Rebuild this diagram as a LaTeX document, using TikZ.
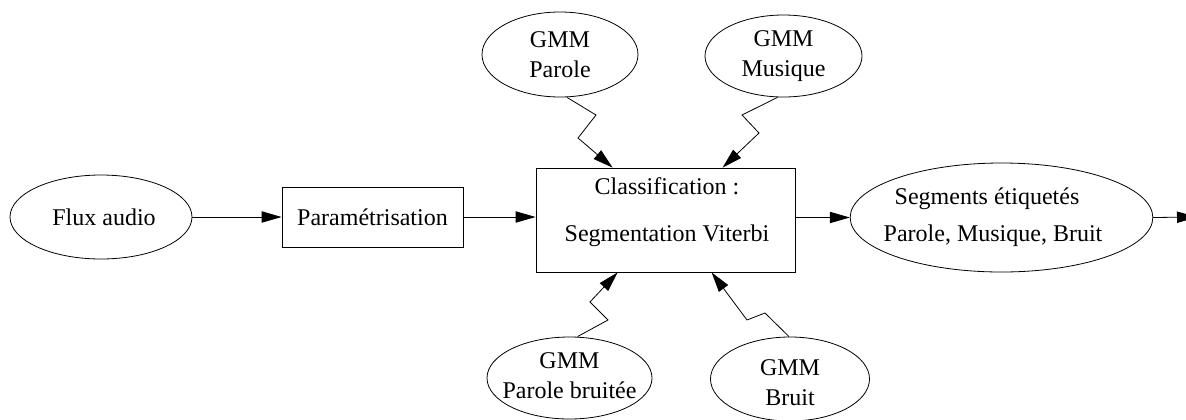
\documentclass[tikz,border=0pt]{standalone}
\usepackage{fontspec}
\setmainfont{Liberation Serif}
\usetikzlibrary{arrows.meta,shapes.geometric,calc}
\begin{document}
\begin{tikzpicture}[x=0.75pt,y=-0.75pt,
  every node/.style={font=\fontsize{18pt}{22.5pt}\selectfont, line width=0.6pt, inner sep=0pt, align=center},
  ell/.style={draw, ellipse},
  boxn/.style={draw, rectangle},
  arr/.style={line width=0.6pt, -{Triangle[length=15pt,width=8.5pt]}},
  conn/.style={line width=0.6pt}
]
\useasboundingbox (0,0) rectangle (1186,419);
% shapes
\node[ell, minimum width=136.5pt, minimum height=63pt] (flux) at (101,217) {};
\node[boxn, minimum width=135.75pt, minimum height=45pt] (param) at (372.5,217) {};
\node[boxn, minimum width=194.25pt, minimum height=78pt] (classif) at (665.5,220) {};
\node[ell, minimum width=227pt, minimum height=81.75pt] (seg) at (1001.5,217.5) {};
\node[ell, minimum width=117pt, minimum height=63.75pt] (gp) at (560,54.5) {};
\node[ell, minimum width=117.75pt, minimum height=61.5pt] (gm) at (783.5,56) {};
\node[ell, minimum width=123.75pt, minimum height=61.5pt] (gpb) at (569.5,378) {};
\node[ell, minimum width=119.25pt, minimum height=63pt] (gb) at (790,379) {};
\coordinate (out) at (1197,217);
% texts
\node (fluxt) at (104,217) {Flux audio};
\node (paramt) at (372.5,217) {Paramétrisation};
\node[font=\fontsize{18pt}{35pt}\selectfont] (classift) at (667,212) {Classification :\\Segmentation Viterbi};
\node[font=\fontsize{18pt}{27.75pt}\selectfont] (segt) at (993,217) {Segments étiquetés\hspace*{9pt}\\Parole, Musique, Bruit};
\node (gpt) at (560,55) {GMM\\Parole};
\node (gmt) at (783.5,56) {GMM\\Musique};
\node (gpbt) at (569.5,375.5) {GMM\\Parole bruitée};
\node (gbt) at (790,383) {GMM\\Bruit};

\draw[arr] (flux.east) -- (param.west);
\draw[arr] (param.east) -- (param.east -| classif.west);
\draw[arr] (seg.west -| classif.east) -- (seg.west);
\draw[arr] (seg.east) -- (out);

\draw[conn, arr] ($(gp.south)+(7,0)$) -- (596,115) -- (578,138) -- ($(classif.north west)+(77,0)$);
\draw[conn, arr] ($(gm.south)+(-6,0)$) -- (742,115) -- (759,133) -- ($(classif.north west)+(187,0)$);
\draw[conn, arr] ($(gpb.north)+(8,0)$) -- (608,320) -- (590,302) -- ($(classif.south west)+(82,0)$);
\draw[conn, arr] ($(gb.north)+(-1,0)$) -- (765,313) -- (747,320) -- ($(classif.south west)+(176,0)$);
\end{tikzpicture}
\end{document}
